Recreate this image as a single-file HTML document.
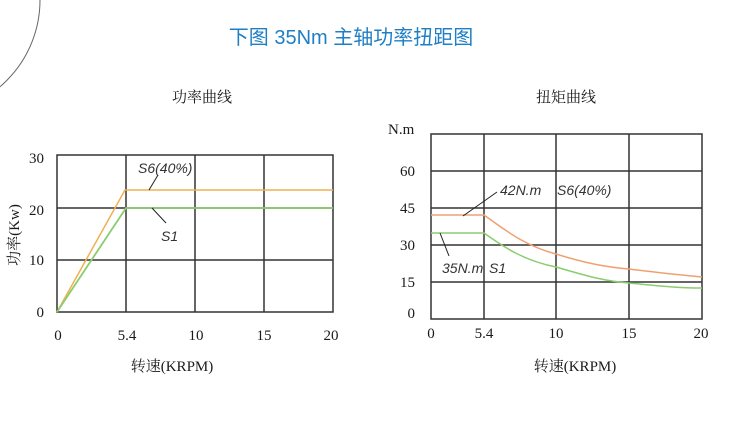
<!DOCTYPE html>
<html><head><meta charset="utf-8"><style>
html,body{margin:0;padding:0;background:#fff;}
svg{display:block;}
.t{font-family:"Liberation Serif","Noto Serif CJK SC",serif;font-size:15px;fill:#1a1a1a;}
.i{font-family:"Liberation Sans","DejaVu Sans",sans-serif;font-style:italic;font-size:14px;fill:#333;}
</style></head><body>
<svg width="737" height="427" viewBox="0 0 737 427" xmlns="http://www.w3.org/2000/svg">
<circle cx="-74" cy="0" r="114" fill="none" stroke="#666" stroke-width="1"/>
<text x="351" y="44" text-anchor="middle" font-family="Liberation Sans,Noto Sans CJK SC,sans-serif" font-size="20" fill="#1f7fc4">下图 35Nm 主轴功率扭距图</text>
<text class="t" x="202" y="102" text-anchor="middle">功率曲线</text>
<text class="t" x="566" y="102" text-anchor="middle">扭矩曲线</text>
<!-- left chart -->
<g stroke="#333" stroke-width="1.5" fill="none">
<rect x="57" y="155" width="276" height="157"/>
<line x1="126" y1="155" x2="126" y2="312"/><line x1="195" y1="155" x2="195" y2="312"/><line x1="264" y1="155" x2="264" y2="312"/>
<line x1="57" y1="208" x2="333" y2="208"/><line x1="57" y1="260" x2="333" y2="260"/>
</g>
<polyline points="57,312 125,190 333,190" fill="none" stroke="#f0b050" stroke-width="1.5"/>
<polyline points="57,312 126,208 333,208" fill="none" stroke="#8ccc70" stroke-width="1.8"/>
<line x1="158" y1="175" x2="149" y2="190" stroke="#222"/>
<line x1="152" y1="208" x2="166" y2="223" stroke="#222"/>
<text class="i" x="138" y="173">S6(40%)</text>
<text class="i" x="161" y="241">S1</text>
<g class="t" text-anchor="end">
<text x="44" y="163">30</text><text x="44" y="215">20</text><text x="44" y="265">10</text><text x="44" y="317">0</text>
</g>
<g class="t" text-anchor="middle">
<text x="58" y="340">0</text><text x="127" y="340">5.4</text><text x="196" y="340">10</text><text x="264" y="340">15</text><text x="331" y="340">20</text>
<text x="172" y="371">转速(KRPM)</text>
</g>
<text class="t" x="0" y="0" text-anchor="middle" font-size="16" transform="translate(19,235) rotate(-90)">功率(Kw)</text>
<!-- right chart -->
<g stroke="#333" stroke-width="1.5" fill="none">
<rect x="431" y="134" width="271" height="185"/>
<line x1="484" y1="134" x2="484" y2="319"/><line x1="556" y1="134" x2="556" y2="319"/><line x1="629" y1="134" x2="629" y2="319"/>
<line x1="431" y1="171" x2="702" y2="171"/><line x1="431" y1="208" x2="702" y2="208"/><line x1="431" y1="245" x2="702" y2="245"/><line x1="431" y1="282" x2="702" y2="282"/>
</g>
<path d="M431,215 L484,215 C505,230 525,246 556,254 C585,263 605,267 629,269 C660,273 680,275 702,277" fill="none" stroke="#f0a070" stroke-width="1.5"/>
<path d="M431,233 L484,233 C505,248 525,261 556,267 C590,277 605,281 629,283 C660,286 680,288 702,288" fill="none" stroke="#8ccc70" stroke-width="1.5"/>
<line x1="497" y1="192" x2="463" y2="216" stroke="#222"/>
<line x1="440" y1="233" x2="449" y2="256" stroke="#222"/>
<text class="i" x="500" y="195">42N.m</text>
<text class="i" x="557" y="195">S6(40%)</text>
<text class="i" x="442" y="273">35N.m</text>
<text class="i" x="489" y="273">S1</text>
<text class="t" x="388" y="134">N.m</text>
<g class="t" text-anchor="end">
<text x="415" y="176">60</text><text x="415" y="213">45</text><text x="415" y="250">30</text><text x="415" y="287">15</text><text x="415" y="318">0</text>
</g>
<g class="t" text-anchor="middle">
<text x="431" y="338">0</text><text x="484" y="338">5.4</text><text x="556" y="338">10</text><text x="629" y="338">15</text><text x="701" y="338">20</text>
<text x="575" y="371">转速(KRPM)</text>
</g>
</svg>
</body></html>
